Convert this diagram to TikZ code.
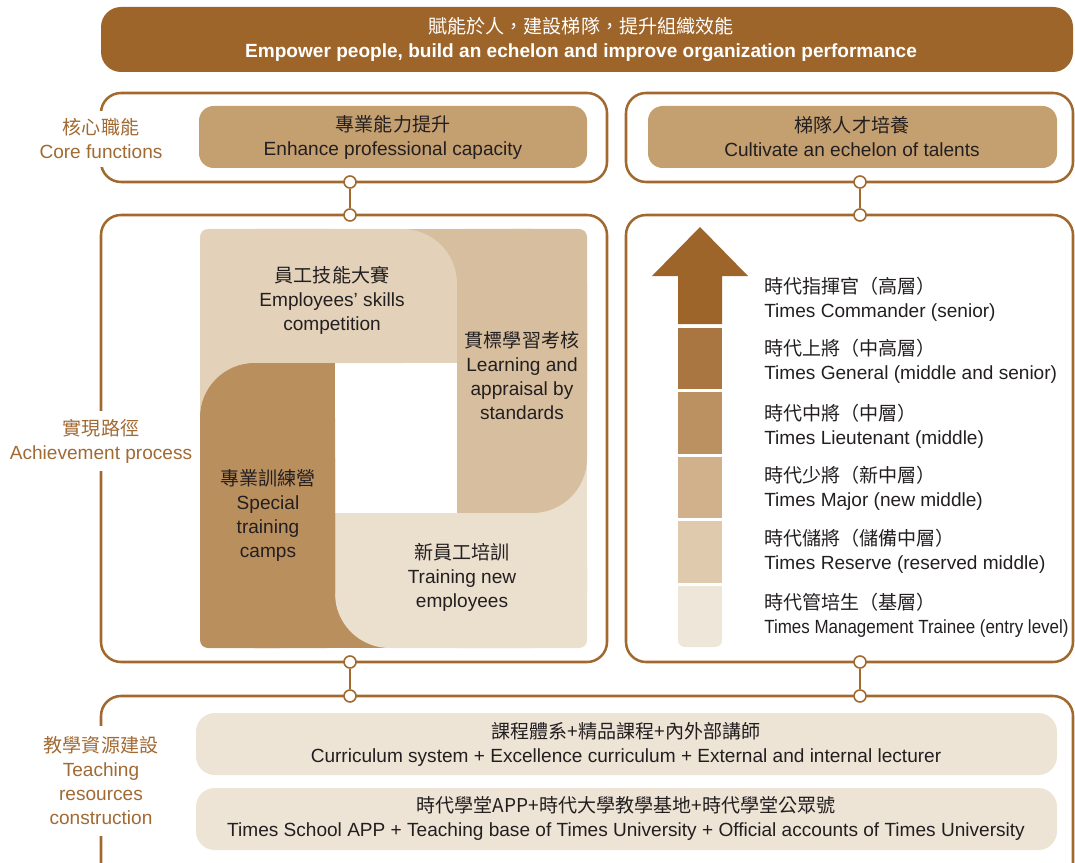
\documentclass[tikz,border=0pt]{standalone}
\usepackage{fontspec}
\setmainfont{Liberation Sans}
\newfontfamily\cjk{Noto Sans CJK TC}
\definecolor{banc}{HTML}{9E652B}
\definecolor{outc}{HTML}{A2692F}
\definecolor{boxc}{HTML}{C49F70}
\definecolor{lightc}{HTML}{EEE4D6}
\definecolor{topc}{HTML}{E3D2B9}
\definecolor{rightc}{HTML}{D6BE9E}
\definecolor{botc}{HTML}{EBDFCE}
\definecolor{leftc}{HTML}{BA8F5E}
\definecolor{txtc}{HTML}{231F20}
\definecolor{labc}{HTML}{A26A33}
\definecolor{segA}{HTML}{9E652B}
\definecolor{segB}{HTML}{A97641}
\definecolor{segC}{HTML}{BC9161}
\definecolor{segD}{HTML}{D1B18B}
\definecolor{segE}{HTML}{DFCAAD}
\definecolor{segF}{HTML}{EFE6DA}
\begin{document}
\begin{tikzpicture}[x=0.75pt,y=-0.75pt,
  frame/.style={draw=outc, line width=1.9pt, rounded corners=15pt},
  txt/.style={text=txtc, font=\fontsize{14.3pt}{18pt}\selectfont, align=center, inner sep=0pt},
  lab/.style={text=labc, font=\fontsize{14.3pt}{18pt}\selectfont, align=center, fill=white, inner xsep=2pt, inner ysep=6pt},
  dot/.style={circle, draw=outc, line width=1.2pt, fill=white, minimum size=9pt, inner sep=0pt},
  conn/.style={draw=outc, line width=1.2pt}]
\useasboundingbox (0,0) rectangle (1075,863);
\clip (0,0) rectangle (1075,863);

% banner
\fill[banc, rounded corners=15pt] (101,7) rectangle (1073,72);
\node[txt, text=white] (banner) at (581,39) {{\cjk 賦能於人，建設梯隊，提升組織效能}\\\textbf{Empower people, build an echelon and improve organization performance}};

% frames
\draw[frame] (101,93) rectangle (607,182);
\draw[frame] (626,93) rectangle (1073,182);
\draw[frame] (101,215) rectangle (607,662);
\draw[frame] (626,215) rectangle (1073,662);
\draw[frame] (101,696) rectangle (1073,900);

% top inner boxes
\fill[boxc, rounded corners=11pt] (199,106) rectangle (587,168);
\fill[boxc, rounded corners=11pt] (648,106) rectangle (1057,168);
\node[txt] (core1) at (393,137) {{\cjk 專業能力提升}\\Enhance professional capacity};
\node[txt] (core2) at (852,137) {{\cjk 梯隊人才培養}\\Cultivate an echelon of talents};

% bottom inner boxes
\fill[lightc, rounded corners=14pt] (196,713) rectangle (1057,775);
\fill[lightc, rounded corners=14pt] (196,788) rectangle (1057,850);
\node[txt] (res1) at (626,744) {{\cjk 課程體系+精品課程+內外部講師}\\Curriculum system + Excellence curriculum + External and internal lecturer};
\node[txt] (res2) at (626,818) {{\cjk 時代學堂APP+時代大學教學基地+時代學堂公眾號}\\Times School APP + Teaching base of Times University + Official accounts of Times University};

% left labels
\node[lab] (l1) at (101,139) {{\cjk 核心職能}\\Core functions};
\node[lab] (l2) at (101,441) {{\cjk 實現路徑}\\Achievement process};
\node[lab, inner ysep=8pt] (l3) at (101,781) {{\cjk 教學資源建設}\\Teaching\\resources\\construction};

% pinwheel: under-corner patches
\fill[rightc] (400,229) rectangle (457,292);
\fill[botc] (530,456) rectangle (587,513);
\fill[leftc] (335,590) rectangle (392,648);
\fill[topc] (200,363) rectangle (257,420);
% top piece
\fill[topc, rounded corners=41pt] (200,229) rectangle (457,363);
\fill[topc] (200,296) rectangle (457,363);
\fill[topc, rounded corners=6pt] (200,229) rectangle (340,300);
% right piece
\fill[rightc, rounded corners=41pt] (457,229) rectangle (587,513);
\fill[rightc] (457,229) rectangle (530,513);
\fill[rightc, rounded corners=6pt] (457,229) rectangle (587,400);
% bottom piece
\fill[botc, rounded corners=41pt] (335,513) rectangle (587,648);
\fill[botc] (335,513) rectangle (587,580);
\fill[botc, rounded corners=6pt] (450,513) rectangle (587,648);
% left piece
\fill[leftc, rounded corners=41pt] (200,363) rectangle (335,648);
\fill[leftc] (270,363) rectangle (335,648);
\fill[leftc, rounded corners=6pt] (200,450) rectangle (335,648);

\node[txt] (p1) at (332,300) {{\cjk 員工技能大賽}\\Employees’ skills\\competition};
\node[txt] (p2) at (522,376) {{\cjk 貫標學習考核}\\Learning and\\appraisal by\\standards};
\node[txt] (p3) at (268,515) {{\cjk 專業訓練營}\\Special\\training\\camps};
\node[txt] (p4) at (462,577) {{\cjk 新員工培訓}\\Training new\\employees};

% arrow
\fill[segA] (700,227) -- (748,276) -- (722,276) -- (722,324) -- (678,324) -- (678,276) -- (652,276) -- cycle;
\fill[segB] (678,328) rectangle (722,389);
\fill[segC] (678,392) rectangle (722,454);
\fill[segD] (678,457) rectangle (722,518);
\fill[segE] (678,521) rectangle (722,583);
\fill[segF, rounded corners=5pt] (678,586) rectangle (722,647);
\fill[segF] (678,586) rectangle (722,620);

\node[txt, anchor=west, align=left] (t1) at (764,299) {{\cjk 時代指揮官（高層）}\\Times Commander (senior)};
\node[txt, anchor=west, align=left] (t2) at (764,361.5) {{\cjk 時代上將（中高層）}\\Times General (middle and senior)};
\node[txt, anchor=west, align=left] (t3) at (764,426.5) {{\cjk 時代中將（中層）}\\Times Lieutenant (middle)};
\node[txt, anchor=west, align=left] (t4) at (764,488) {{\cjk 時代少將（新中層）}\\Times Major (new middle)};
\node[txt, anchor=west, align=left] (t5) at (764,551) {{\cjk 時代儲將（儲備中層）}\\Times Reserve (reserved middle)};
\node[txt, anchor=west, align=left] (t6) at (764,615) {{\cjk 時代管培生（基層）}\\\scalebox{0.89}[1]{Times Management Trainee (entry level)}};

% connectors
\node[dot] (c1a) at (350,182) {};
\node[dot] (c1b) at (350,215) {};
\node[dot] (c2a) at (860,182) {};
\node[dot] (c2b) at (860,215) {};
\node[dot] (c3a) at (350,662) {};
\node[dot] (c3b) at (350,696) {};
\node[dot] (c4a) at (860,662) {};
\node[dot] (c4b) at (860,696) {};
\draw[conn] (c1a) -- (c1b);
\draw[conn] (c2a) -- (c2b);
\draw[conn] (c3a) -- (c3b);
\draw[conn] (c4a) -- (c4b);
\end{tikzpicture}
\end{document}
